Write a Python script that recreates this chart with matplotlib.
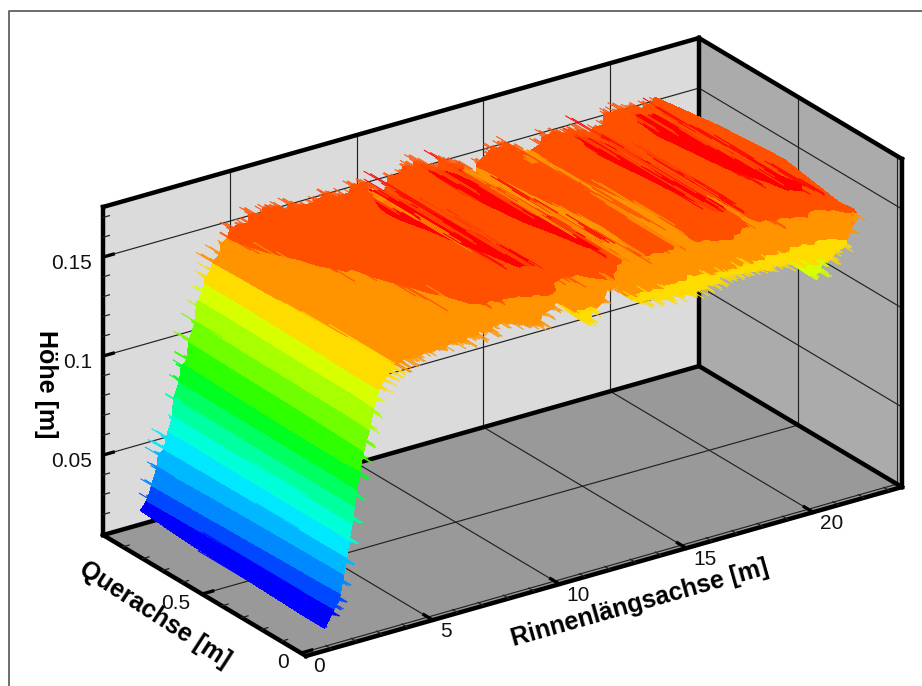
import numpy as np
from matplotlib import pyplot as plt
from matplotlib.collections import LineCollection

plt.rcParams["font.family"] = ["Liberation Sans", "DejaVu Sans"]

X_TICKS = [0, 5, 10, 15, 20]
Y_TICKS = [0, 0.5]
Z_TICKS = [0.05, 0.1, 0.15]
X_LABELS = ["0", "5", "10", "15", "20"]
Y_LABELS = ["0", "0.5"]
Z_LABELS = ["0.05", "0.1", "0.15"]
X_MINOR = list(range(0, 24))
Y_MINOR = [0.1, 0.2, 0.3, 0.4, 0.6, 0.7, 0.8, 0.9]
Z_MINOR = [0.02, 0.03, 0.04, 0.06, 0.07, 0.08, 0.09, 0.11, 0.12, 0.13, 0.14, 0.16, 0.17]

# box limits
X_MAX = 23.5
Y_MIN, Y_MAX = -0.025, 1.0
Z_MIN, Z_MAX = 0.0096, 0.1753

# stations along the flume
x_st = [1.0, 1.15, 1.3, 1.45, 1.6, 1.75, 1.9, 2.05, 2.2, 2.35, 2.5, 2.65,
        2.8, 2.95, 3.1, 3.25, 3.4, 3.55, 3.7, 3.85, 4.0, 4.15, 4.3, 4.45,
        4.7, 4.95, 5.2, 5.45, 5.7, 5.95, 6.2, 6.45, 6.7, 6.95,
        7.2, 7.45, 7.7, 7.95, 8.2, 8.45, 8.7, 8.95, 9.2, 9.45,
        9.7, 9.95, 10.2, 10.45, 10.7, 10.95, 11.2, 11.45, 11.7, 11.95,
        12.2, 12.45, 12.7, 12.95, 13.2, 13.45, 13.7, 13.95, 14.2, 14.45,
        14.7, 14.95, 15.2, 15.45, 15.7, 15.95, 16.2, 16.45, 16.7, 16.95,
        17.2, 17.45, 17.7, 17.95, 18.2, 18.45, 18.7, 18.95, 19.2, 19.45,
        19.7, 19.95, 20.2, 20.45, 20.7, 20.95, 21.2, 21.45, 21.7, 21.95,
        22.2]

# wet width limits at each station
y_lo = [.01, .01, .01, .012, .012, .015, .015, .02, .02, .025, .025, .03,
        .03, .03, .035, .035, .04, .04, .04, .045, .045, .05, .05, .05,
        .04, .055, .04, .06, .035, .05, .04, .06, .035, .05,
        .04, .055, .03, .05, .04, .06, .035, .055, .04, .05,
        .035, .06, .04, .05, .03, .055, .04, .05, .035, .06,
        .04, .05, .03, .055, .04, .05, .035, .06, .04, .05,
        .03, .055, .04, .05, .035, .06, .04, .05, .03, .055,
        .04, .05, .035, .06, .04, .05, .03, .055, .04, .05,
        .035, .06, .04, .05, .03, .055, .04, .05, .035, .04,
        .03]
y_hi = [.94, .94, .94, .94, .935, .945, .935, .945, .935, .945, .935, .945,
        .935, .945, .935, .945, .935, .94, .93, .94, .925, .935, .92, .93,
        .92, .90, .93, .90, .92, .91, .93, .90, .92, .90,
        .93, .90, .92, .91, .93, .90, .92, .90, .93, .91,
        .92, .90, .93, .91, .93, .90, .92, .90, .93, .91,
        .92, .90, .93, .90, .92, .91, .93, .90, .93, .91,
        .92, .90, .93, .91, .92, .90, .93, .90, .92, .91,
        .93, .90, .92, .91, .93, .90, .92, .90, .93, .91,
        .92, .90, .93, .90, .92, .91, .93, .64, .34, .10,
        .05]

# water level [mm] at the stations, front edge to back edge
z_front = [18, 21, 24, 27, 30, 38, 48, 58, 68, 79, 89, 97, 104, 111, 118, 124,
           129, 132, 134, 135, 136, 137, 138, 139,
           139, 138, 140, 139, 140, 139, 141, 140, 140, 141,
           141, 142, 142, 143, 144, 143, 142, 141, 139, 138,
           138, 141, 144, 146, 144, 140, 136, 133, 132, 135,
           140, 145, 147, 143, 139, 136, 135, 135, 134, 134,
           133, 133, 132, 132, 131, 131, 132, 133, 134, 135,
           135, 135, 135, 134, 134, 134, 133, 133, 133, 133,
           132, 130, 126, 123, 125, 127, 129, 131, 134, 140,
           148]
z_near = [18, 21, 24, 28, 32, 39, 49, 56, 68, 77, 88, 94, 103, 108, 117, 121,
          129, 130, 135, 134, 137, 136, 139, 139,
          141, 141, 142, 142, 143, 142, 143, 144, 143, 145,
          146, 147, 148, 150, 151, 151, 152, 153, 154, 156,
          160, 163, 164, 160, 154, 152, 150, 149, 150, 152,
          156, 161, 165, 163, 157, 153, 150, 148, 149, 149,
          150, 152, 153, 153, 151, 148, 146, 147, 150, 153,
          157, 160, 164, 163, 156, 151, 149, 148, 149, 150,
          152, 155, 158, 162, 165, 161, 154, 150, 148, 147,
          146]
z_mid = [19, 22, 25, 29, 34, 41, 49, 57, 65, 77, 85, 94, 98, 107, 113, 121,
         126, 132, 132, 136, 136, 139, 139, 142,
         143, 144, 144, 145, 145, 146, 146, 148, 149, 150,
         152, 153, 154, 152, 153, 155, 156, 157, 161, 164,
         166, 164, 160, 154, 152, 150, 151, 153, 157, 162,
         165, 166, 164, 158, 155, 154, 152, 150, 146, 144,
         147, 151, 154, 155, 154, 151, 146, 145, 148, 154,
         161, 164, 166, 163, 157, 153, 152, 151, 153, 155,
         161, 164, 166, 164, 158, 155, 153, 152, 151, 150,
         149]
z_rear = [20, 23, 26, 31, 37, 44, 49, 55, 66, 74, 85, 90, 97, 102, 113, 118,
          126, 129, 135, 135, 140, 140, 144, 144,
          146, 147, 149, 150, 151, 152, 152, 153, 154, 153,
          155, 154, 153, 154, 156, 158, 162, 165, 166, 164,
          160, 156, 148, 146, 147, 150, 153, 160, 164, 166,
          164, 159, 156, 154, 152, 150, 147, 145, 146, 151,
          154, 156, 156, 155, 153, 149, 146, 150, 156, 162,
          165, 164, 160, 155, 153, 151, 151, 153, 158, 163,
          165, 166, 164, 158, 155, 154, 153, 152, 151, 150,
          149]
z_back = [22, 24, 27, 33, 41, 47, 50, 54, 64, 73, 82, 88, 92, 100, 109, 117,
          124, 130, 134, 137, 141, 145, 149, 152,
          154, 155, 157, 158, 159, 158, 157, 156, 157, 155,
          154, 156, 155, 157, 156, 155, 154, 156, 157, 158,
          156, 150, 147, 152, 156, 158, 160, 160, 160, 158,
          156, 156, 157, 155, 154, 152, 148, 146, 150, 155,
          156, 157, 156, 155, 151, 147, 148, 153, 155, 156,
          155, 155, 154, 153, 152, 151, 152, 154, 157, 158,
          158, 157, 157, 156, 156, 157, 158, 160, 160, 152,
          150]
width_frac = [0, 0.12, 0.4, 0.72, 1]

levels = [0, .026, .033, .042, .05, .058, .066, .074, .082, .09, .10, .11,
          .12, .128, .137, .149, .1605, .2]
band_colors = ["#0000ff", "#0048ff", "#0088ff", "#00b8ff", "#00e8ff", "#00ffd8",
               "#00ffa0", "#00ff60", "#00ff20", "#30ff00", "#70ff00", "#a8ff00",
               "#d8ff00", "#ffdc00", "#ff9400", "#ff5000", "#ff0000"]

# how far the thin streaks run, cycled over the stations
streak_reach = [1.0, .35, .7, .2, .9, .5, .15, .6, .3, .8, .45]
spike_len = [.03, .012, .045, .022, .008, .038, .018, .055, .01, .028, .02, .042, .015]


def project(x, y, z):
    # view of the box, gives image pixels
    x, y, z = np.asarray(x, float), np.asarray(y, float), np.asarray(z, float)
    yy = y - Y_MIN
    sx = 306 + 25.36 * x - 198 * yy
    sy = 656 - 7.19 * x - 118 * yy - 1980 * (z - Z_MIN)
    return sx, sy


def line3d(ax, a, b, **kw):
    sx, sy = project([a[0], b[0]], [a[1], b[1]], [a[2], b[2]])
    ax.plot(sx, sy, solid_capstyle="projecting", **kw)


def face(ax, corners, color):
    pts = np.array(corners)
    sx, sy = project(pts[:, 0], pts[:, 1], pts[:, 2])
    ax.fill(sx, sy, color=color, lw=0, zorder=1)


def band_color(z):
    return band_colors[int(np.digitize(z, levels)) - 1]


fig = plt.figure(figsize=(9.22, 6.86), dpi=100)
ax = fig.add_axes([0, 0, 1, 1])
ax.set_xlim(0, 922)
ax.set_ylim(686, 0)
ax.axis("off")

# picture frame
ax.plot([8.5, 8.5, 922], [686, 10.5, 10.5], color="#555555", lw=1.2, zorder=1)

face(ax, [(0, Y_MAX, Z_MIN), (X_MAX, Y_MAX, Z_MIN), (X_MAX, Y_MAX, Z_MAX), (0, Y_MAX, Z_MAX)], "#dbdbdb")
face(ax, [(X_MAX, Y_MAX, Z_MIN), (X_MAX, Y_MIN, Z_MIN), (X_MAX, Y_MIN, Z_MAX), (X_MAX, Y_MAX, Z_MAX)], "#ababab")
face(ax, [(0, Y_MIN, Z_MIN), (X_MAX, Y_MIN, Z_MIN), (X_MAX, Y_MAX, Z_MIN), (0, Y_MAX, Z_MIN)], "#999999")

grid = dict(color="#222222", lw=0.85, zorder=2)
for xt in X_TICKS[1:]:
    line3d(ax, (xt, Y_MIN, Z_MIN), (xt, Y_MAX, Z_MIN), **grid)
    line3d(ax, (xt, Y_MAX, Z_MIN), (xt, Y_MAX, Z_MAX), **grid)
for yt in Y_TICKS:
    line3d(ax, (0, yt, Z_MIN), (X_MAX, yt, Z_MIN), **grid)
    line3d(ax, (X_MAX, yt, Z_MIN), (X_MAX, yt, Z_MAX), **grid)
for zt in Z_TICKS:
    line3d(ax, (0, Y_MAX, zt), (X_MAX, Y_MAX, zt), **grid)
    line3d(ax, (X_MAX, Y_MAX, zt), (X_MAX, Y_MIN, zt), **grid)

edge = dict(color="black", lw=3.2, zorder=3)
line3d(ax, (0, Y_MAX, Z_MIN), (X_MAX, Y_MAX, Z_MIN), **edge)
line3d(ax, (X_MAX, Y_MAX, Z_MIN), (X_MAX, Y_MIN, Z_MIN), **edge)
line3d(ax, (0, Y_MIN, Z_MIN), (X_MAX, Y_MIN, Z_MIN), **edge)
line3d(ax, (0, Y_MIN, Z_MIN), (0, Y_MAX, Z_MIN), **edge)
line3d(ax, (0, Y_MAX, Z_MIN), (0, Y_MAX, Z_MAX), **edge)
line3d(ax, (0, Y_MAX, Z_MAX), (X_MAX, Y_MAX, Z_MAX), **edge)
line3d(ax, (X_MAX, Y_MAX, Z_MAX), (X_MAX, Y_MIN, Z_MAX), **edge)
line3d(ax, (X_MAX, Y_MIN, Z_MAX), (X_MAX, Y_MIN, Z_MIN), **edge)
line3d(ax, (X_MAX, Y_MAX, Z_MIN), (X_MAX, Y_MAX, Z_MAX), **edge)

# ticks point into the box
major = dict(color="black", lw=2.4, zorder=3)
minor = dict(color="#222222", lw=0.9, zorder=3)
for xt in X_TICKS:
    line3d(ax, (xt, Y_MIN, Z_MIN), (xt, Y_MIN + 0.045, Z_MIN), **major)
for xt in X_MINOR:
    if xt not in X_TICKS:
        line3d(ax, (xt, Y_MIN, Z_MIN), (xt, Y_MIN + 0.028, Z_MIN), **minor)
for yt in Y_TICKS:
    line3d(ax, (0, yt, Z_MIN), (0.42, yt, Z_MIN), **major)
for yt in Y_MINOR:
    line3d(ax, (0, yt, Z_MIN), (0.25, yt, Z_MIN), **minor)
for zt in Z_TICKS:
    line3d(ax, (0, Y_MAX, zt), (0.4, Y_MAX, zt), **major)
for zt in Z_MINOR:
    line3d(ax, (0, Y_MAX, zt), (0.25, Y_MAX, zt), **minor)

# water surface
xs = np.array(x_st)
lo = np.array(y_lo)
hi = np.array(y_hi)
zz = np.column_stack([z_front, z_near, z_mid, z_rear, z_back]) / 1000
frac = np.array(width_frac)
yy_grid = lo[:, None] + (hi - lo)[:, None] * frac[None, :]
xx_grid = np.repeat(xs[:, None], len(frac), axis=1)
sx, sy = project(xx_grid, yy_grid, zz)
ax.contourf(sx, sy, zz, levels=levels, colors=band_colors, zorder=4)

# thin streaks along the width, the colour of a band runs into its neighbour
segs, seg_colors = [], []
for i in range(len(xs)):
    gap = xs[i + 1] - xs[i] if i + 1 < len(xs) else 0
    for n, part in enumerate((0, 0.25, 0.5, 0.75)):
        xi = xs[i] + gap * part
        k = n * 4
        if xs[i] < 21.2:
            for j in range(len(frac) - 1):
                a, b = (j, j + 1) if (i + j) % 2 == 0 else (j + 1, j)
                r = streak_reach[(i * 3 + j * 2 + k) % len(streak_reach)]
                y0, z0 = yy_grid[i, a], zz[i, a]
                y1 = y0 + (yy_grid[i, b] - y0) * r
                px, py = project([xi, xi], [y0, y1], [z0, z0])
                segs.append(np.column_stack([px, py]))
                seg_colors.append(band_color(z0))
        # spikes on both rims, longer on the rising part
        stretch = 1.5 if xs[i] < 4.5 else 1.0
        if xs[i] >= 1.3:
            ln = spike_len[(i * 2 + k) % len(spike_len)] * stretch
            px, py = project([xi, xi], [lo[i] + .03, max(lo[i] - ln, -.015)], [zz[i, 0], zz[i, 0]])
            segs.append(np.column_stack([px, py]))
            seg_colors.append(band_color(zz[i, 0]))
        if 1.3 <= xs[i] < 21.2:
            ln = spike_len[(i * 5 + k + 3) % len(spike_len)] * stretch
            px, py = project([xi, xi], [hi[i] - .03, hi[i] + ln], [zz[i, 4], zz[i, 4]])
            segs.append(np.column_stack([px, py]))
            seg_colors.append(band_color(zz[i, 4]))
ax.add_collection(LineCollection(segs, colors=seg_colors, linewidths=0.75, zorder=5))

for val, lab in zip(X_TICKS, X_LABELS):
    px, py = project(val, Y_MIN, Z_MIN)
    ax.text(px + 7, py + 11, lab, fontsize=15, color="#111111", ha="left", va="center", zorder=6)
for val, lab in zip(Y_TICKS, Y_LABELS):
    px, py = project(0, val, Z_MIN)
    ax.text(px - 12, py + 9, lab, fontsize=15, color="#111111", ha="right", va="center", zorder=6)
for val, lab in zip(Z_TICKS, Z_LABELS):
    px, py = project(0, Y_MAX, val)
    ax.text(px - 11, py + 6, lab, fontsize=15, color="#111111", ha="right", va="center", zorder=6)

bold = dict(fontsize=18, fontweight="bold", ha="center", va="center", rotation_mode="anchor", zorder=6)
ax.text(46, 384, "Höhe [m]", rotation=270, **bold)
ax.text(155, 615, "Querachse [m]", rotation=-33, **bold)
ax.text(640, 603, "Rinnenlängsachse [m]", rotation=15.8, **bold)

fig.savefig("out.png", dpi=100)
